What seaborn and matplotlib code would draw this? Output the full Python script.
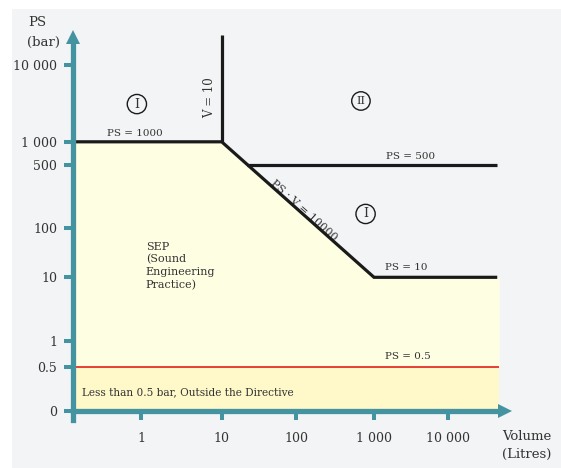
import numpy as np
import pandas as pd
import matplotlib
matplotlib.use("Agg")
import matplotlib.pyplot as plt
import seaborn as sns
from matplotlib.patches import Rectangle

# ---------------- data ----------------
x_tick_values = [1, 10, 100, 1000, 10000]
x_tick_labels = ["1", "10", "100", "1 000", "10 000"]
y_tick_values = [0, 0.5, 1, 10, 100, 500, 1000, 10000]
y_tick_labels = ["0", "0.5", "1", "10", "100", "500", "1 000", "10 000"]

v_origin = 0.1
v_end = 47000
v_fill_end = 50000

limit_v = [v_origin, 10, 1000, v_end]      # PS = 1000 -> PS*V = 10000 -> PS = 10
limit_p = [1000, 1000, 10, 10]
v10_v = [10, 10]                            # V = 10
v10_p = [1000, 24500]
ps500_v = [22, v_end]                       # PS = 500
ps500_p = [500, 500]
ps05_v = [v_origin, v_fill_end]             # PS = 0.5
ps05_p = [0.5, 0.5]

sep_v = [v_origin, 10, 1000, v_fill_end]
sep_p = [1000, 1000, 10, 10]

# ---------------- schematic axis scales ----------------
W, H = 561, 468
x_knot_v = np.array([0.01, 0.1, 1, 10, 100, 1000, 10000, 1e5, 1e6])
x_knot_px = np.array([0, 73, 141, 221.7, 296, 374, 447.7, 521.4, 595])
x_knot_u = np.log10(x_knot_v)


def x_fwd(v):
    v = np.asarray(v, dtype=float)
    with np.errstate(divide="ignore", invalid="ignore"):
        u = np.log10(np.maximum(v, 1e-12))
    return np.interp(u, x_knot_u, x_knot_px)


def x_inv(p):
    u = np.interp(np.asarray(p, dtype=float), x_knot_px, x_knot_u)
    return 10.0 ** u


L05 = np.log10(0.5)


def y_u(v):
    v = np.asarray(v, dtype=float)
    with np.errstate(divide="ignore", invalid="ignore"):
        lg = np.log10(np.maximum(v, 0.5))
    return np.where(v >= 0.5, lg, L05 - 1 + 2 * v)


y_knot_v = np.array([-1, 0, 0.5, 1, 10, 100, 500, 1000, 10000, 1e5])
y_knot_px = np.array([-32, 57, 101.5, 127, 190.7, 239.7, 303, 326.2, 403, 480])
y_knot_u = y_u(y_knot_v)


def y_fwd(v):
    return np.interp(y_u(v), y_knot_u, y_knot_px)


def y_inv(p):
    u = np.interp(np.asarray(p, dtype=float), y_knot_px, y_knot_u)
    return np.where(u >= L05, 10.0 ** u, (u - L05 + 1) / 2)


# ---------------- figure ----------------
sns.set_theme(style="white")
plt.rcParams["font.family"] = ["DejaVu Serif"]
teal = "#4393a1"
txt = "#333333"

fig = plt.figure(figsize=(W / 100, H / 100), dpi=100, facecolor="white")
fig.add_artist(Rectangle((12 / W, 0), 1, (H - 9) / H, transform=fig.transFigure,
                         facecolor="#f3f4f5", edgecolor="none", zorder=-10))

ax_l, ax_r, ax_b, ax_t = 73, 512, 48, 438
ax = fig.add_axes([ax_l / W, ax_b / H, (ax_r - ax_l) / W, (ax_t - ax_b) / H])
ax.set_facecolor("none")

# regions
ax.fill_between(sep_v, 0.5, sep_p, color="#fefee3", lw=0, zorder=1)
ax.fill_between(ps05_v, 0, ps05_p, color="#fff8c9", lw=0, zorder=1)

# lines via seaborn
lines_df = pd.concat([
    pd.DataFrame({"V": limit_v, "PS": limit_p, "seg": "limit"}),
    pd.DataFrame({"V": v10_v, "PS": v10_p, "seg": "v10"}),
    pd.DataFrame({"V": ps500_v, "PS": ps500_p, "seg": "ps500"}),
], ignore_index=True)
sns.lineplot(data=lines_df, x="V", y="PS", units="seg", estimator=None, sort=False,
             color="#1a1a1a", lw=2.3, ax=ax, zorder=3)
red_df = pd.DataFrame({"V": ps05_v, "PS": ps05_p})
sns.lineplot(data=red_df, x="V", y="PS", estimator=None, sort=False,
             color="#e3201b", lw=1.2, ax=ax, zorder=3)
for ln in ax.lines:
    ln.set_solid_capstyle("butt")
    ln.set_solid_joinstyle("miter")

ax.set_xscale("function", functions=(x_fwd, x_inv))
ax.set_yscale("function", functions=(y_fwd, y_inv))
ax.set_xlim(float(x_inv(ax_l)), float(x_inv(ax_r)))
ax.set_ylim(float(y_inv(ax_b)), float(y_inv(ax_t)))
ax.set_xlabel("")
ax.set_ylabel("")

# axes as thick teal arrows
for s in ["top", "right"]:
    ax.spines[s].set_visible(False)
ax.spines["bottom"].set_position(("data", 0))
for s in ["left", "bottom"]:
    ax.spines[s].set_color(teal)
    ax.spines[s].set_linewidth(3.8)
    ax.spines[s].set_zorder(4)
ax.spines["bottom"].set_bounds(float(x_inv(ax_l)), float(x_inv(499)))
ax.spines["left"].set_bounds(float(y_inv(ax_b)), float(y_inv(425)))
ax.plot([(505.5 - ax_l) / (ax_r - ax_l)], [0], marker=">", ms=10, color=teal, mew=0,
        transform=ax.get_yaxis_transform(), clip_on=False, zorder=5)
ax.plot([0], [(431.5 - ax_b) / (ax_t - ax_b)], marker="^", ms=10, color=teal, mew=0,
        transform=ax.transAxes, clip_on=False, zorder=5)

ax.set_xticks(x_tick_values)
ax.set_xticklabels(x_tick_labels)
ax.set_yticks(y_tick_values)
ax.set_yticklabels(y_tick_labels)
ax.minorticks_off()
ax.tick_params(axis="both", direction="out", length=6.5, width=2.9, color=teal,
               labelsize=9, labelcolor=txt, left=True, bottom=True)
ax.tick_params(axis="y", pad=5)
ax.tick_params(axis="x", pad=8.5)
ax.grid(False)

# annotations
fs = 7.5
ax.text(0.8, 1300, "PS = 1000", ha="center", va="center", fontsize=fs, color=txt, zorder=6)
ax.text(7.0, 3800, "V = 10", ha="center", va="center", rotation=90, fontsize=8.5, color=txt, zorder=6)
ax.text(3150, 640, "PS = 500", ha="center", va="center", fontsize=fs, color=txt, zorder=6)
ax.text(2780, 15.7, "PS = 10", ha="center", va="center", fontsize=fs, color=txt, zorder=6)
ax.text(2890, 0.665, "PS = 0.5", ha="center", va="center", fontsize=fs, color=txt, zorder=6)
ax.text(0.135, 0.208, "Less than 0.5 bar, Outside the Directive", ha="left", va="center",
        fontsize=7.6, color=txt, zorder=6)
ax.text(1.15, 53, "SEP\n(Sound\nEngineering\nPractice)", ha="left", va="top",
        fontsize=8, color=txt, linespacing=1.3, zorder=6)
ax.text(127, 159, "PS · V = 10000", ha="center", va="center", rotation=-42,
        rotation_mode="anchor", fontsize=8, color=txt, zorder=2)

circ = dict(boxstyle="circle,pad=0.25", fc="none", ec="#1a1a1a", lw=1.0)
ax.text(0.87, 3100, "I", ha="center", va="center", fontsize=9, color=txt, bbox=circ, zorder=6)
ax.text(780, 144, "I", ha="center", va="center", fontsize=9, color=txt, bbox=circ, zorder=6)
circ2 = dict(boxstyle="circle,pad=0.38", fc="none", ec="#1a1a1a", lw=1.0)
ax.text(680, 3400, "II", ha="center", va="center", fontsize=8, color=txt, bbox=circ2, zorder=6)

# axis titles
fig.text(37 / W, 1 - 23 / H, "PS", ha="center", va="center", fontsize=9.5, color=txt)
fig.text(43.3 / W, 1 - 42.7 / H, "(bar)", ha="center", va="center", fontsize=9.5, color=txt)
fig.text(502 / W, 1 - 436.7 / H, "Volume", ha="left", va="center", fontsize=9.5, color=txt)
fig.text(502 / W, 1 - 454.3 / H, "(Litres)", ha="left", va="center", fontsize=9.5, color=txt)

fig.savefig("out.png", dpi=100, facecolor="white")
